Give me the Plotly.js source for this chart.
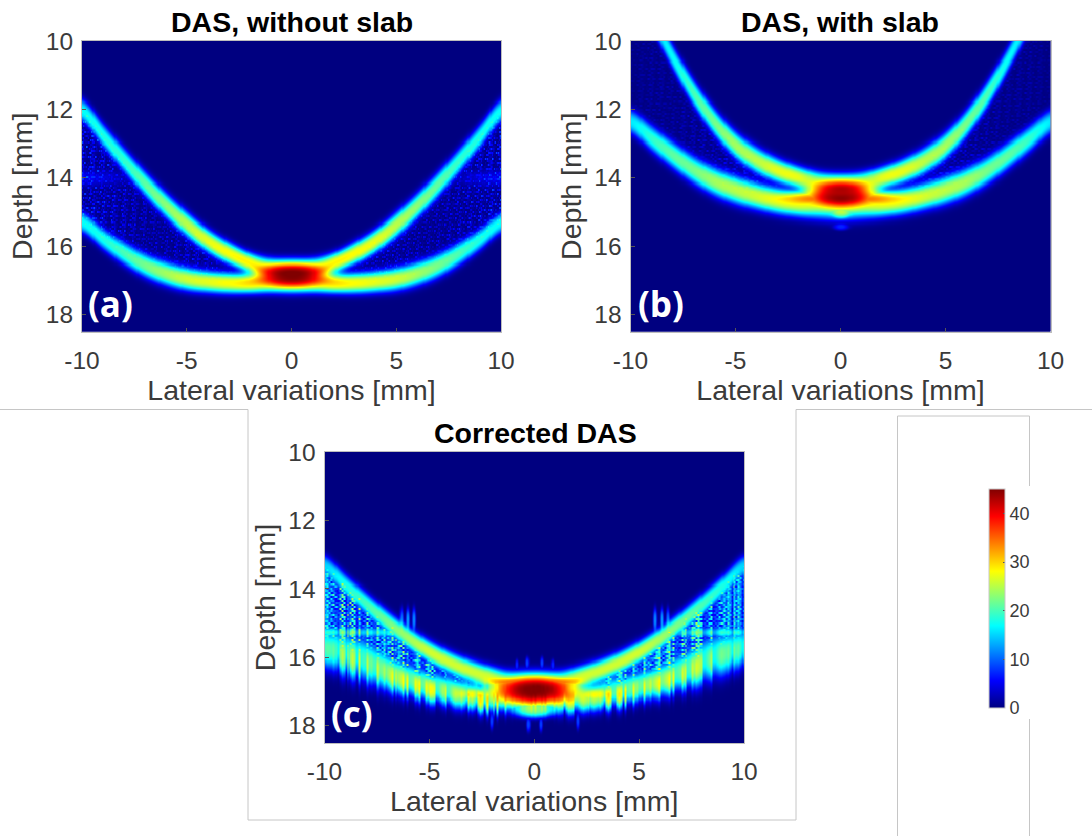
<!DOCTYPE html>
<html><head><meta charset="utf-8">
<script src="https://cdn.plot.ly/plotly-3.0.1.min.js"></script>
<style>html,body{margin:0;padding:0;background:#fff}#c{width:1092px;height:836px}</style>
</head><body><div id="c"></div>
<script>
// Values at |lateral| = 0..10 mm (the images are close to symmetric).
const lateralSamples = [0,1,2,3,4,5,6,7,8,9,10];

const upperDepthA = [16.68,16.63,16.47,16.2,15.84,15.36,14.8,14.17,13.48,12.76,12.02];
const lowerDepthA = [17.09,17.09,17.09,17.07,17.03,16.95,16.79,16.55,16.2,15.78,15.3];
const upperLevelA = [20,22,28,28,27,25,23,21,19,18,17];
const lowerLevelA = [20,22,28,28,27,26,24,22,20,18,17];
const upperWidthA = [.29,.29,.28,.31,.33,.36,.36,.36,.35,.34,.33];
const lowerWidthA = [.29,.28,.28,.3,.31,.33,.34,.34,.33,.31,.3];
const gapLevelA   = [0,0,0,3,5,5,4,4,5,6,7];
const ridgeLevelA = [0,0,0,0,0,0,0,1,4,7,9];
const blobLateralA=[0]; const blobDepthA=[16.84]; const blobLevelA=[41]; const blobSxA=[2.1]; const blobSdA=[.42];

const upperDepthB = [14.14,14.1,13.98,13.78,13.48,13.04,12.38,11.52,10.47,9.27,7.97];
const lowerDepthB = [14.8,14.78,14.74,14.66,14.52,14.34,14.1,13.76,13.32,12.84,12.35];
const upperLevelB = [20,22,27,27,25,24,22,20,17,16,15];
const lowerLevelB = [24,24,27,27,26,25,24,22,21,19,16];
const upperWidthB = [.29,.29,.31,.34,.37,.38,.38,.38,.36,.36,.36];
const lowerWidthB = [.4,.39,.37,.37,.38,.4,.4,.39,.38,.37,.35];
const gapLevelB   = [0,0,0,3,5,5,4,3,2,2,1];
const ridgeLevelB = [0,0,0,0,0,0,0,0,0,0,0];
const blobLateralB=[0,0,0,0]; const blobDepthB=[14.45,14.55,15.42,15.05]; const blobLevelB=[41,30,7,16]; const blobSxB=[1.9,2.9,.4,.5]; const blobSdB=[.45,.25,.1,.15];

const upperDepthC = [16.74,16.7,16.58,16.4,16.15,15.83,15.43,14.96,14.44,13.89,13.32];
const lowerDepthC = [17.2,17.2,17.2,17.12,17.0,16.85,16.66,16.42,16.12,15.88,15.72];
const upperLevelC = [14,16,25,26,26,26,24,22,20,18,15];
const lowerLevelC = [14,16,23,24,24,24,24,23,22,21,20];
const upperWidthC = [.31,.31,.31,.32,.32,.32,.32,.32,.32,.32,.32];
const lowerWidthC = [.38,.38,.4,.4,.42,.43,.46,.52,.6,.6,.55];
const gapLevelC   = [0,0,4,11,13,14,15,15,15,15,15];
const ridgeLevelC = [0,0,0,0,0,6,14,18,20,20,20];
const blobLateralC=[0,0,0,2.8,5.75,6.05,6.35,.35,.85,2.05,.3];
const blobDepthC  =[16.95,16.72,17.5,17.05,14.9,14.9,14.9,16.15,16.2,17.85,17.95];
const blobLevelC  =[43,34,22,14,12,13,11,9,8,9,9];
const blobSxC     =[2.2,2.4,1.1,1.0,.09,.09,.09,.08,.07,.08,.08];
const blobSdC     =[.5,.22,.25,.15,.36,.36,.36,.18,.16,.25,.22];

// Hand-typed texture patterns for the speckle and vertical streaks.
const speckleColumns = [.2,1,.5,.1,.9,.35,1.2,.15,.7,1,.3,.05,.85,.5,1.1,.25,.6,.95,.1,.75,.4,1.15,.2,.55,1,.3,.8,.1,.65,1.05,.35,.9,.15,.5,1.2,.25,.7];
const speckleRows    = [.9,.3,1.1,.5,.1,.8,1.2,.4,.2,1,.6,.15,.95,.35,.75,1.15,.25,.55,1,.05,.7,.45,1.05,.3,.85];
const streakC        = [.5,.9,.2,.7,.4,1,.1,.6,.8,.3,.95,.45,.15,.75,.55,.05,.85,.35,.65,.25,1,.5,.1,.7,.9,.4,.2,.8,.6,.3,.95,.15,.55,.85,.05,.4];

const depthTicks = [10,12,14,16,18];
const lateralTicks = [-10,-5,0,5,10];
const colorTicks = [0,10,20,30,40];
const titles = ["DAS, without slab","DAS, with slab","Corrected DAS"];
const labels = ["(a)","(b)","(c)"];
const xTitle = "Lateral variations [mm]";
const yTitle = "Depth [mm]";
const ridgeDepths = [14, 0, 15.25];
const matlabJet = [[0,'rgb(0,0,128)'],[.125,'rgb(0,0,255)'],[.375,'rgb(0,255,255)'],[.625,'rgb(255,255,0)'],[.875,'rgb(255,0,0)'],[1,'rgb(128,0,0)']];

const W=1092,H=836;
const boxes=[{l:82,r:501,t:41,b:331.5},{l:630.5,r:1050.5,t:41,b:331.5},{l:324.5,r:744,t:452,b:743}];

function sample(arr,x){ // Catmull-Rom through the read values
  const a=Math.min(Math.abs(x),10), i=Math.min(Math.floor(a),9), t=a-i;
  const g=k=>arr[k<0?-k:Math.min(k,10)];
  const p0=g(i-1),p1=g(i),p2=g(i+1),p3=g(i+2);
  return .5*(2*p1+(p2-p0)*t+(2*p0-5*p1+4*p2-p3)*t*t+(3*p1-p0-3*p2+p3)*t*t*t);
}
const xs=[];for(let i=0;i<=400;i++)xs.push(-10+i*.05);
const ys=[];for(let j=0;j<=283;j++)ys.push(10+j*.03);

function grid(p,rd,noisy){
  return ys.map((d,j)=>xs.map((x,i)=>{
    const h=Math.floor(i/2), v=Math.floor(j/2);
    const s=noisy?streakC[(h*7+Math.floor(i/23))%streakC.length]:.5;
    const ud=sample(p.ud,x), ld=sample(p.ld,x)+(noisy?(s-.5)*.16:0);
    const tu=Math.abs((d-ud)/sample(p.uw,x)), tl=Math.abs((d-ld)/sample(p.lw,x));
    const f=noisy?.8+.4*s:1;
    const U=sample(p.ul,x)*Math.exp(-Math.pow(tu,2.5)), L=sample(p.ll,x)*f*Math.exp(-Math.pow(tl,2.5));
    let B=0;
    p.bx.forEach((b,k)=>{
      const dx=(Math.abs(x)-b)/p.bsx[k], dd=(d-p.bd[k])/p.bsd[k];
      B=Math.max(B,p.bl[k]*Math.exp(-Math.pow(dx*dx+dd*dd,1.5)));
    });
    let G=0;
    if(d>ud&&d<ld){
      const c=speckleColumns[(i*7+v*11)%speckleColumns.length];
      const r=speckleRows[(v*5+h*3+Math.floor(s*40))%speckleRows.length];
      const tile=c*r;
      G=Math.max(sample(p.gap,x),0)*(noisy?.25+1.2*s*r+.25*c:tile);
      if(rd){const q=(d-rd)/(noisy?.17:.25);G=Math.max(G,Math.max(sample(p.rl,x),0)*Math.exp(-q*q)*(noisy?.6+.6*s:.5+.5*tile));}
    }
    const bands=Math.sqrt(U*U+L*L+B*B);
    return Math.min(45,noisy?Math.max(bands,G):Math.sqrt(bands*bands+G*G));
  }));
}
const A={ud:upperDepthA,ld:lowerDepthA,ul:upperLevelA,ll:lowerLevelA,uw:upperWidthA,lw:lowerWidthA,gap:gapLevelA,rl:ridgeLevelA,bx:blobLateralA,bd:blobDepthA,bl:blobLevelA,bsx:blobSxA,bsd:blobSdA};
const B={ud:upperDepthB,ld:lowerDepthB,ul:upperLevelB,ll:lowerLevelB,uw:upperWidthB,lw:lowerWidthB,gap:gapLevelB,rl:ridgeLevelB,bx:blobLateralB,bd:blobDepthB,bl:blobLevelB,bsx:blobSxB,bsd:blobSdB};
const C={ud:upperDepthC,ld:lowerDepthC,ul:upperLevelC,ll:lowerLevelC,uw:upperWidthC,lw:lowerWidthC,gap:gapLevelC,rl:ridgeLevelC,bx:blobLateralC,bd:blobDepthC,bl:blobLevelC,bsx:blobSxC,bsd:blobSdC};

const panels=[grid(A,ridgeDepths[0],false),grid(B,ridgeDepths[1],false),grid(C,ridgeDepths[2],true)];
const data=panels.map((z,k)=>({type:'heatmap',x:xs,y:ys,z:z,coloraxis:'coloraxis',zsmooth:'best',hoverinfo:'skip',
  xaxis:k?'x'+(k+1):'x',yaxis:k?'y'+(k+1):'y'}));

const px=v=>v/W, py=v=>1-v/H;
const tickFont={family:'Liberation Sans, Arial, sans-serif',size:24.5,color:'#3a3a3a'};
const axisTitleFont={family:'Liberation Sans, Arial, sans-serif',size:28.5,color:'#3a3a3a'};
const layout={width:W,height:H,margin:{l:0,r:0,t:0,b:0},paper_bgcolor:'#fff',plot_bgcolor:'#000080',showlegend:false,
  coloraxis:{colorscale:matlabJet,cmin:0,cmax:45,colorbar:{
    x:px(989),xanchor:'left',y:py(708),yanchor:'bottom',thicknessmode:'pixels',thickness:16,lenmode:'pixels',len:219,xpad:0,ypad:0,
    tickmode:'array',tickvals:colorTicks,ticks:'inside',ticklen:2,tickcolor:'#555',outlinecolor:'#c8c8c8',outlinewidth:1,
    tickfont:{family:'Liberation Sans, Arial, sans-serif',size:18,color:'#3a3a3a'},bgcolor:'rgba(0,0,0,0)'}},
  shapes:[],annotations:[]};
const gray={color:'#c6c6c6',width:1};
const seg=(x0,y0,x1,y1)=>({type:'line',xref:'paper',yref:'paper',x0:px(x0),y0:py(y0),x1:px(x1),y1:py(y1),line:gray,layer:'below'});
layout.shapes.push(seg(0,409.5,248,409.5),seg(248,409.5,248,820),seg(248,820,796,820),seg(796,820,796,409.5),seg(796,409.5,1092,409.5),
  seg(897.5,416,897.5,836),seg(897.5,416,1029.5,416),seg(1029.5,416,1029.5,486),seg(1029.5,719,1029.5,836));
boxes.forEach((b,k)=>{
  const s=k?String(k+1):'';
  layout['xaxis'+s]={domain:[px(b.l),px(b.r)],range:[-10,10],anchor:'y'+s,tickmode:'array',tickvals:lateralTicks,ticktext:lateralTicks.map(String),
    ticks:'inside',ticklen:4,tickcolor:'#555',showgrid:false,zeroline:false,showline:true,linecolor:'#bdbdbd',linewidth:1,mirror:true,
    tickfont:tickFont,ticklabelstandoff:7,title:{text:xTitle,font:axisTitleFont,standoff:5}};
  layout['yaxis'+s]={domain:[py(b.b),py(b.t)],range:[18.5,10],anchor:'x'+s,tickmode:'array',tickvals:depthTicks,ticktext:depthTicks.map(String),
    ticks:'inside',ticklen:4,tickcolor:'#555',showgrid:false,zeroline:false,showline:true,linecolor:'#bdbdbd',linewidth:1,mirror:true,
    tickfont:tickFont,ticklabelstandoff:3,title:{text:yTitle,font:axisTitleFont,standoff:4}};
});
const titlePos=[[292,22],[840,22],[535,433]], labelPos=[[110,303],[661,303],[352,713]];
const ann=(t,p,f)=>({text:t,xref:'paper',yref:'paper',x:px(p[0]),y:py(p[1]),xanchor:'center',yanchor:'middle',showarrow:false,font:f});
titles.forEach((t,k)=>layout.annotations.push(ann('<b>'+t+'</b>',titlePos[k],{family:'Liberation Sans, Arial, sans-serif',size:28.5,color:'#000'})));
labels.forEach((t,k)=>layout.annotations.push(ann('<b>'+t+'</b>',labelPos[k],{family:'Open Sans, Noto Sans, sans-serif',size:35,color:'#fff'})));
Plotly.newPlot('c',data,layout,{displayModeBar:false,staticPlot:true});
</script></body></html>
